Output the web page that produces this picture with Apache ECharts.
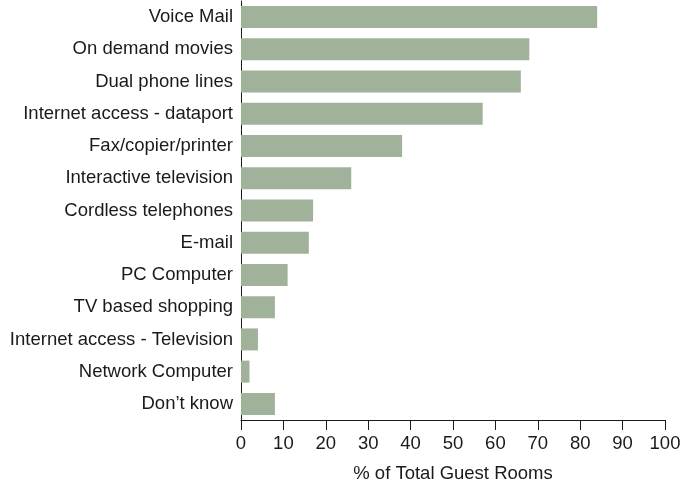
<!DOCTYPE html>
<html>
<head>
<meta charset="utf-8">
<script src="https://cdn.jsdelivr.net/npm/echarts@6/dist/echarts.min.js"></script>
<style>
html,body{margin:0;padding:0;background:#fff;}
#chart{width:682px;height:483px;}
</style>
</head>
<body>
<div id="chart"></div>
<script>
// categories, top to bottom
var categories = ['Voice Mail','On demand movies','Dual phone lines','Internet access - dataport',
	'Fax/copier/printer','Interactive television','Cordless telephones','E-mail','PC Computer',
	'TV based shopping','Internet access - Television','Network Computer','Don\u2019t know'];
// % of total guest rooms
var values = [84,68,66,57,38,26,17,16,11,8,4,2,8];
var xTicks = [0,10,20,30,40,50,60,70,80,90,100];

var myChart = echarts.init(document.getElementById('chart'));
var font = 'Liberation Sans, Arial, Helvetica, sans-serif';
var option = {
	animation:false,
	grid:{left:241,right:17,top:1,bottom:63,containLabel:false,outerBoundsMode:'none'},
	xAxis:{
		type:'value',
		min:xTicks[0],
		max:xTicks[xTicks.length-1],
		interval:10,
		name:'% of Total Guest Rooms',
		nameLocation:'middle',
		nameGap:44,
		nameTextStyle:{color:'#1a1a1a',fontSize:18.5,fontFamily:font},
		axisLine:{show:true,lineStyle:{color:'#1a1a1a',width:1}},
		axisTick:{show:true,length:10,lineStyle:{color:'#1a1a1a'}},
		axisLabel:{color:'#1a1a1a',fontSize:18.5,fontFamily:font,margin:14},
		splitLine:{show:false}
	},
	yAxis:{
		type:'category',
		data:categories,
		inverse:true,
		axisLine:{show:true,lineStyle:{color:'#1a1a1a',width:1}},
		axisTick:{show:false},
		axisLabel:{color:'#1a1a1a',fontSize:18.5,fontFamily:font,margin:8}
	},
	series:[{
		type:'bar',
		data:values,
		barWidth:22,
		itemStyle:{color:'#a1b29a'}
	}]
};
myChart.setOption(option);
</script>
</body>
</html>
